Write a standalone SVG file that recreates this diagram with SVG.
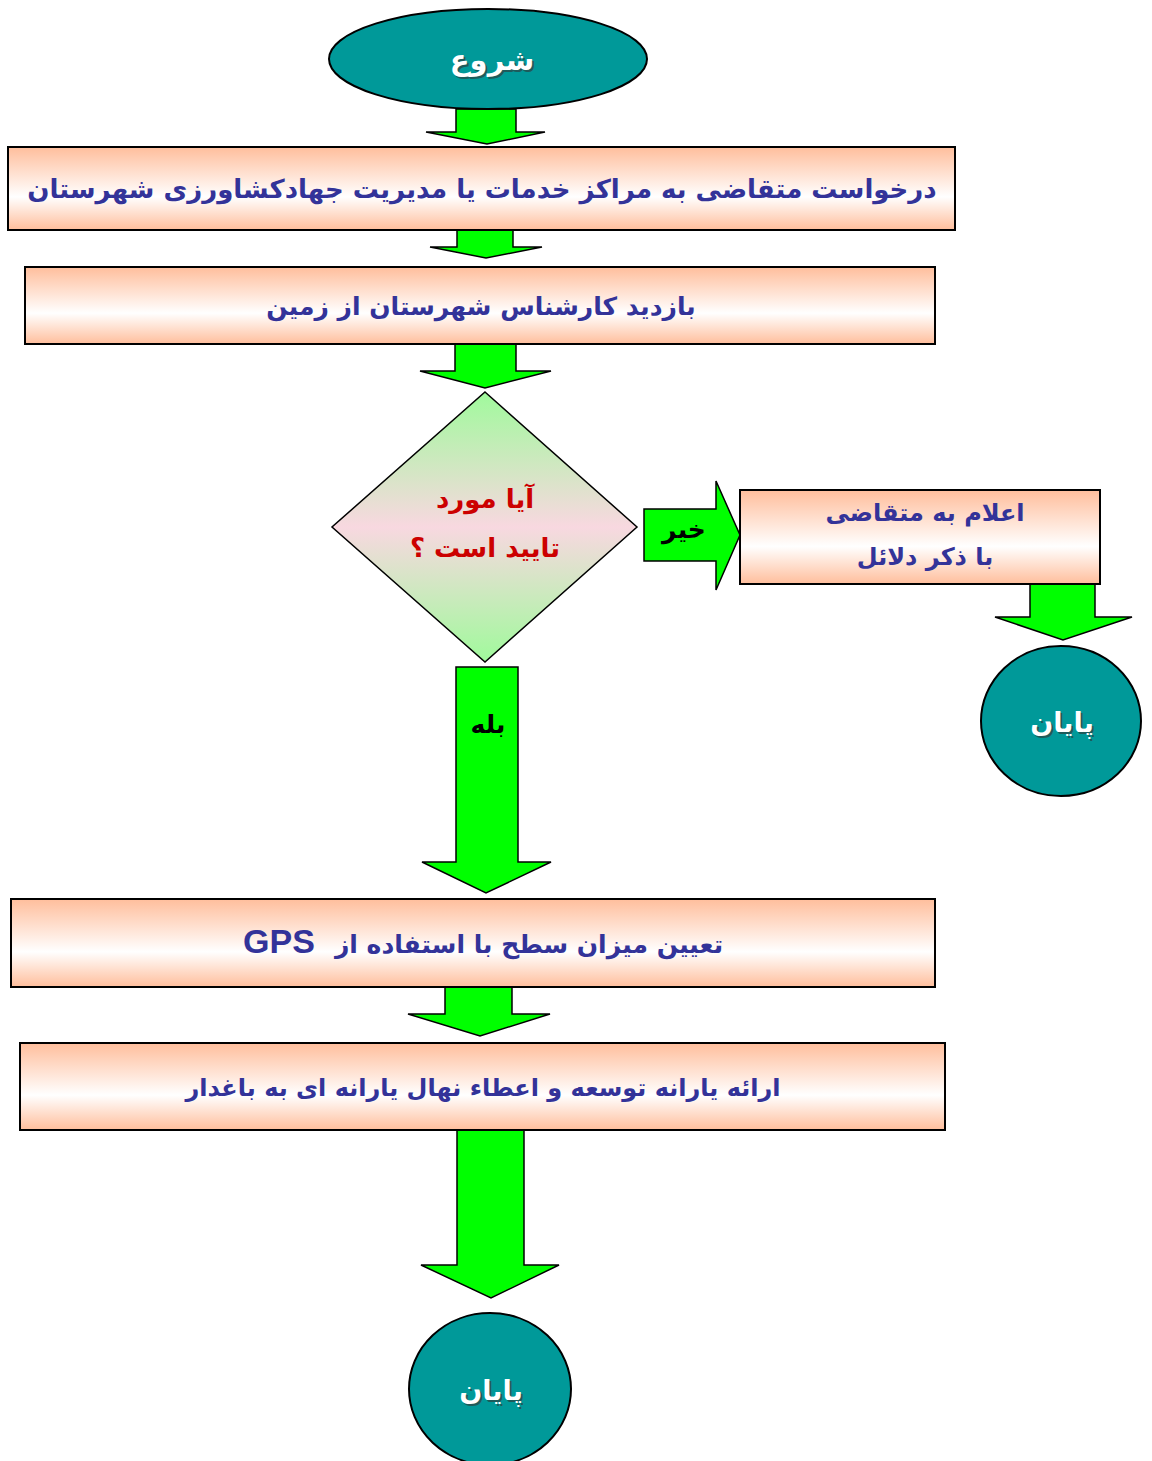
<svg xmlns="http://www.w3.org/2000/svg" width="1152" height="1461" viewBox="0 0 1152 1461">
<defs>
<linearGradient id="boxg" x1="0" y1="0" x2="0" y2="1">
<stop offset="0" stop-color="#FFBE9C"/>
<stop offset="0.6" stop-color="#FFFFFF"/>
<stop offset="1" stop-color="#FFBE9C"/>
</linearGradient>
<linearGradient id="diag" x1="0" y1="0" x2="0" y2="1">
<stop offset="0" stop-color="#A0FA9C"/>
<stop offset="0.5" stop-color="#F8D8E0"/>
<stop offset="1" stop-color="#A0FA9C"/>
</linearGradient>
</defs>
<style>
.box{fill:url(#boxg);stroke:#000;stroke-width:2}
.term{fill:#009999;stroke:#000;stroke-width:2}
.arr{fill:#00FF00;stroke:#000;stroke-width:1.5;stroke-linejoin:miter}
.bt{font-family:"DejaVu Sans",sans-serif;font-weight:bold;fill:#333399;text-anchor:middle}
.wt{font-family:"DejaVu Sans",sans-serif;font-weight:bold;fill:#FFFFFF;text-anchor:middle}
.sh{font-family:"DejaVu Sans",sans-serif;font-weight:bold;fill:#333333;opacity:0.6;text-anchor:middle}
.lbl{font-family:"DejaVu Sans",sans-serif;font-weight:bold;fill:#000;text-anchor:middle}
.rt{font-family:"DejaVu Sans",sans-serif;font-weight:bold;fill:#CC0000;text-anchor:middle}
</style>
<g id="connectors">
<polygon class="arr" points="456,109 516,109 516,132 545,132 487,144 426,132 456,132"/>
<polygon class="arr" points="457,230 513,230 513,247 542,247 486,258 430,247 457,247"/>
<polygon class="arr" points="455,344 516,344 516,371 551,371 485,388 420,371 455,371"/>
<polygon class="arr" points="644,509 716,509 716,481 740,535 716,590 716,561 644,561"/>
<text class="lbl" x="684" y="538" font-size="25">خیر</text>
<polygon class="arr" points="1030,584 1095,584 1095,617 1132,617 1063,640 995,617 1030,617"/>
<polygon class="arr" points="456,667 518,667 518,862 551,862 486,893 422,862 456,862"/>
<text class="lbl" x="488" y="733" font-size="25">بله</text>
<polygon class="arr" points="445,987 512,987 512,1014 550,1014 480,1036 408,1014 445,1014"/>
<polygon class="arr" points="457,1130 524,1130 524,1265 559,1265 491,1298 421,1265 457,1265"/>
</g>
<g id="start">
<ellipse class="term" cx="488" cy="59" rx="159" ry="50"/>
<text class="sh" x="494" y="72" font-size="29">شروع</text>
<text class="wt" x="492" y="70" font-size="29">شروع</text>
</g>
<g id="request">
<rect class="box" x="8" y="147" width="947" height="83"/>
<text class="bt" x="482" y="198" font-size="26">درخواست  متقاضی  به مراکز خدمات یا مدیریت جهادکشاورزی شهرستان</text>
</g>
<g id="visit">
<rect class="box" x="25" y="267" width="910" height="77"/>
<text class="bt" x="481" y="315" font-size="25">بازدید کارشناس شهرستان از زمین</text>
</g>
<g id="decision">
<polygon points="485,392 637,527 485,662 332,527" fill="url(#diag)" stroke="#000" stroke-width="1.5"/>
<text class="rt" x="485" y="508" font-size="26">آیا مورد</text>
<text class="rt" x="485" y="557" font-size="26">تایید است ؟</text>
</g>
<g id="notify">
<rect class="box" x="740" y="490" width="360" height="94"/>
<text class="bt" x="925" y="521" font-size="24">اعلام به متقاضی</text>
<text class="bt" x="925" y="565" font-size="24">با ذکر دلائل</text>
</g>
<g id="end1">
<ellipse class="term" cx="1061" cy="721" rx="80" ry="75"/>
<text class="sh" x="1064" y="734" font-size="27">پایان</text>
<text class="wt" x="1062" y="732" font-size="27">پایان</text>
</g>
<g id="measure">
<rect class="box" x="11" y="899" width="924" height="88"/>
<text class="bt" x="529" y="953" font-size="25">تعیین میزان سطح با استفاده از</text>
<text x="279" y="953" font-size="34" font-family="Liberation Sans, Arial, sans-serif" font-weight="bold" fill="#333399" text-anchor="middle">GPS</text>
</g>
<g id="subsidy">
<rect class="box" x="20" y="1043" width="925" height="87"/>
<text class="bt" x="483" y="1096" font-size="24">ارائه یارانه توسعه و اعطاء نهال یارانه ای به باغدار</text>
</g>
<g id="end2">
<ellipse class="term" cx="490" cy="1389" rx="81" ry="76"/>
<text class="sh" x="493" y="1402" font-size="27">پایان</text>
<text class="wt" x="491" y="1400" font-size="27">پایان</text>
</g>
</svg>
